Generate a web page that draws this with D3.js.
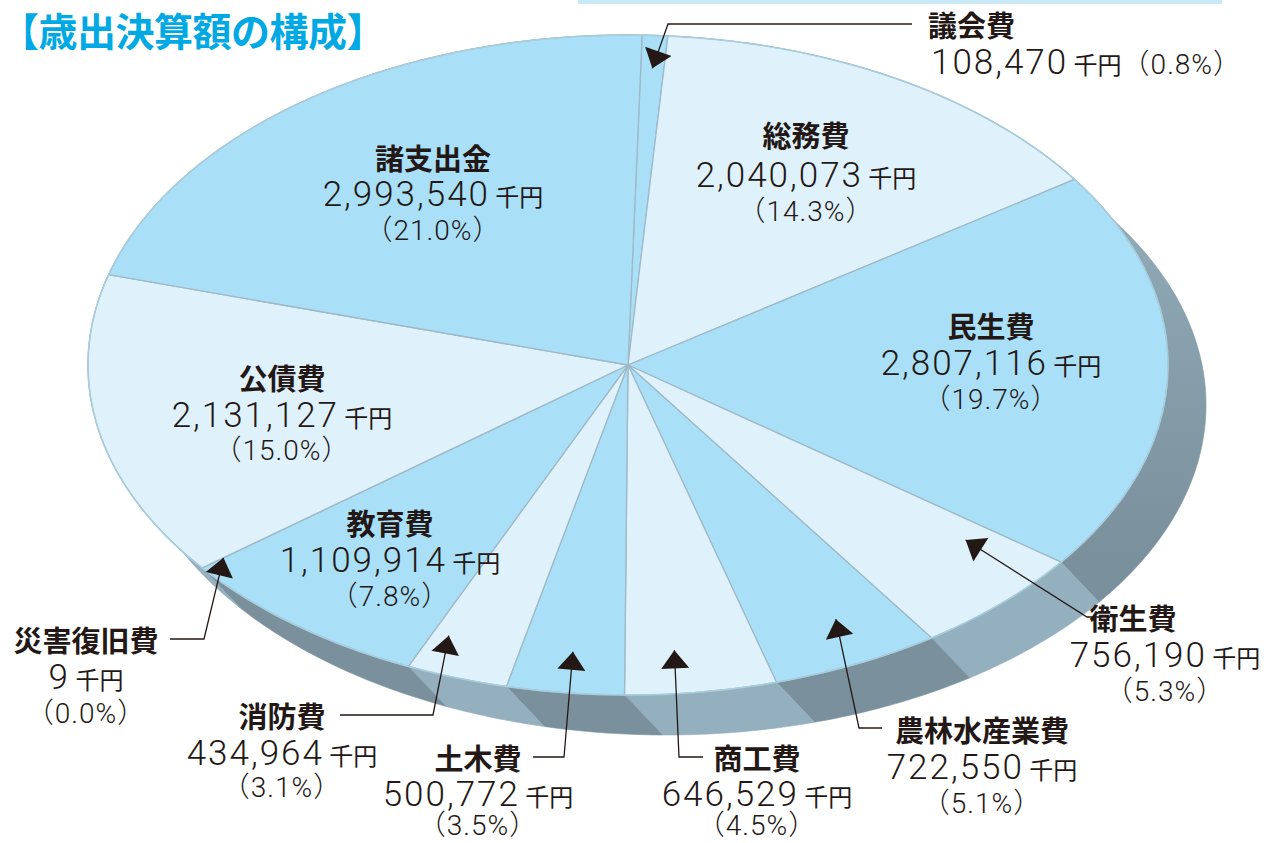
<!DOCTYPE html>
<html lang="ja">
<head>
<meta charset="utf-8">
<title>歳出決算額の構成</title>
<script src="https://d3js.org/d3.v7.min.js"></script>
<style>
  html, body { margin: 0; padding: 0; background: #fff; }
  svg { display: block; }
  .title { font-family: "Noto Sans CJK JP", sans-serif; font-weight: 700; font-size: 39px; letter-spacing: -0.5px; fill: #00a9e3; }
  .name { font-family: "Noto Sans CJK JP", sans-serif; font-weight: 700; font-size: 29px; fill: #231815; }
  .val { fill: #231815; }
  .num { font-family: Roboto, "Noto Sans CJK JP", sans-serif; font-weight: 300; font-size: 35px; letter-spacing: 2px; }
  .unit { font-family: "Noto Sans CJK JP", sans-serif; font-size: 24px; }
  .pct { font-family: Roboto, "Noto Sans CJK JP", sans-serif; font-weight: 300; font-size: 28px; letter-spacing: 1px; fill: #231815; }
</style>
</head>
<body>
<script>
// data (千円)
const categories = ["議会費", "総務費", "民生費", "衛生費", "農林水産業費", "商工費",
                    "土木費", "消防費", "教育費", "災害復旧費", "公債費", "諸支出金"];
const amounts = [108470, 2040073, 2807116, 756190, 722550, 646529,
                 500772, 434964, 1109914, 9, 2131127, 2993540];
const tones = ["blue", "light", "blue", "light", "blue", "light",
               "blue", "light", "blue", "light", "light", "blue"];

const W = 1268, H = 843;
const cx = 628, cy = 365, rx = 540, ry = 330;
const depth = [38, 40];
const start = 1.5 * Math.PI / 180;

// label placement: x/y = baseline of the name line, leader = [from, elbow], tip = [t within slice, radius fraction]
const layout = {
  "議会費":     { x: 928, y: 37, inline: true, leader: [[912, 24], [668, 24]], tip: [0.5, 0.9] },
  "総務費":     { x: 806, y: 147, dy: [40, 74] },
  "民生費":     { x: 991, y: 338 },
  "衛生費":     { x: 1165, nx: 1133, y: 630, leader: [[1110, 617], [1087, 617]], tip: [0.19, 0.82] },
  "農林水産業費": { x: 982, y: 742, leader: [[882, 728], [859, 728]], tip: [0.42, 0.861] },
  "商工費":     { x: 757, y: 770, dy: [36, 65], leader: [[703, 757], [679, 757]], tip: [0.63, 0.869] },
  "土木費":     { x: 478, y: 770, dy: [36, 65], leader: [[533, 757], [564, 757]], tip: [0.5, 0.875] },
  "消防費":     { x: 282, y: 728, dy: [37, 69], leader: [[340, 715], [433, 715]], tip: [0.82, 0.885] },
  "教育費":     { x: 390, y: 535 },
  "災害復旧費":   { x: 86, y: 652, leader: [[170, 639], [204, 639]], tip: [0, 0.95] },
  "公債費":     { x: 282, y: 390, dy: [37, 70] },
  "諸支出金":    { x: 433, y: 170, dy: [36, 70] }
};

const total = d3.sum(amounts);
const data = categories.map((c, i) => ({ name: c, amount: amounts[i], tone: tones[i] }));
const fmt = d3.format(",");
const pctFmt = v => (v / total * 100).toFixed(1) + "%";

const pie = d3.pie().sort(null).value(d => d.amount)
  .startAngle(start).endAngle(start + 2 * Math.PI);
const arcs = pie(data);

// ellipse projection
const sx = d3.scaleLinear().domain([-1, 1]).range([cx - rx, cx + rx]);
const sy = d3.scaleLinear().domain([-1, 1]).range([cy - ry, cy + ry]);
const pt = (a, f = 1) => [sx(f * Math.sin(a)), sy(-f * Math.cos(a))];

function arcPoints(a0, a1) {
  const n = Math.max(2, Math.ceil((a1 - a0) / 0.01));
  return d3.range(n + 1).map(k => pt(a0 + (a1 - a0) * k / n));
}

const fill = { blue: "#a9e0f8", light: "#dff2fc" };
const line = d3.line();

const svg = d3.select("body").append("svg").attr("width", W).attr("height", H);

const defs = svg.append("defs");
const g1 = defs.append("linearGradient").attr("id", "sideBlue")
  .attr("gradientUnits", "userSpaceOnUse").attr("x1", 0).attr("y1", 200).attr("x2", 0).attr("y2", 560);
g1.append("stop").attr("offset", 0).attr("stop-color", "#91abb8");
g1.append("stop").attr("offset", 1).attr("stop-color", "#7a909c");

// top band
svg.append("rect").attr("x", 578).attr("y", 0).attr("width", 644).attr("height", 4).attr("fill", "#c9e9f7");

// title
svg.append("text").attr("class", "title").attr("x", 0).attr("y", 46).text("【歳出決算額の構成】");

// side walls
svg.append("g").selectAll("path")
  .data(arcs.filter(d => d.endAngle > d.startAngle))
  .join("path")
  .attr("d", d => {
    const top = arcPoints(d.startAngle, d.endAngle);
    const bot = top.map(p => [p[0] + depth[0], p[1] + depth[1]]).reverse();
    return line(top.concat(bot)) + "Z";
  })
  .attr("fill", d => d.data.tone === "blue" ? "url(#sideBlue)" : "#94afbd")
  .attr("stroke", d => d.data.tone === "blue" ? "#7f96a3" : "#93aebc")
  .attr("stroke-width", 0.6);

// top face
svg.append("g").selectAll("path")
  .data(arcs.filter(d => d.endAngle > d.startAngle))
  .join("path")
  .attr("d", d => line([[cx, cy]].concat(arcPoints(d.startAngle, d.endAngle))) + "Z")
  .attr("fill", d => fill[d.data.tone])
  .attr("stroke", "#9fb9c7")
  .attr("stroke-width", 1.3)
  .attr("stroke-linejoin", "round");

svg.append("ellipse").attr("cx", cx).attr("cy", cy).attr("rx", rx).attr("ry", ry)
  .attr("fill", "none").attr("stroke", "#a8cddd").attr("stroke-width", 1.5);

// labels
const lab = svg.append("g");
arcs.forEach(d => {
  const L = layout[d.data.name];
  const dy = L.dy || [37, 71];
  if (L.inline) {
    lab.append("text").attr("class", "name").attr("x", L.x).attr("y", L.y).text(d.data.name);
    const t = lab.append("text").attr("class", "val").attr("x", L.x + 3).attr("y", L.y + 37);
    t.append("tspan").attr("class", "num").text(fmt(d.data.amount));
    t.append("tspan").attr("class", "unit").text(" 千円");
    t.append("tspan").attr("class", "pct").text("（" + pctFmt(d.data.amount) + "）");
  } else {
    lab.append("text").attr("class", "name").attr("text-anchor", "middle")
      .attr("x", L.nx || L.x).attr("y", L.y).text(d.data.name);
    const t = lab.append("text").attr("class", "val").attr("text-anchor", "middle")
      .attr("x", L.x).attr("y", L.y + dy[0]);
    t.append("tspan").attr("class", "num").text(fmt(d.data.amount));
    t.append("tspan").attr("class", "unit").text(" 千円");
    lab.append("text").attr("class", "pct").attr("text-anchor", "middle")
      .attr("x", L.x).attr("y", L.y + dy[1]).text("（" + pctFmt(d.data.amount) + "）");
  }

  if (L.leader) {
    const a = d.startAngle + (d.endAngle - d.startAngle) * L.tip[0];
    const tip = pt(a, L.tip[1]);
    const pts = L.leader.concat([tip]);
    lab.append("path").attr("d", line(pts)).attr("fill", "none")
      .attr("stroke", "#231815").attr("stroke-width", 1.3);
    const e = L.leader[1];
    const len = Math.hypot(tip[0] - e[0], tip[1] - e[1]);
    const ux = (tip[0] - e[0]) / len, uy = (tip[1] - e[1]) / len;
    const bx = tip[0] - ux * 18, by = tip[1] - uy * 18;
    lab.append("path")
      .attr("d", line([tip, [bx - uy * 14, by + ux * 14], [bx + uy * 14, by - ux * 14]]) + "Z")
      .attr("fill", "#231815");
  }
});
</script>
</body>
</html>
